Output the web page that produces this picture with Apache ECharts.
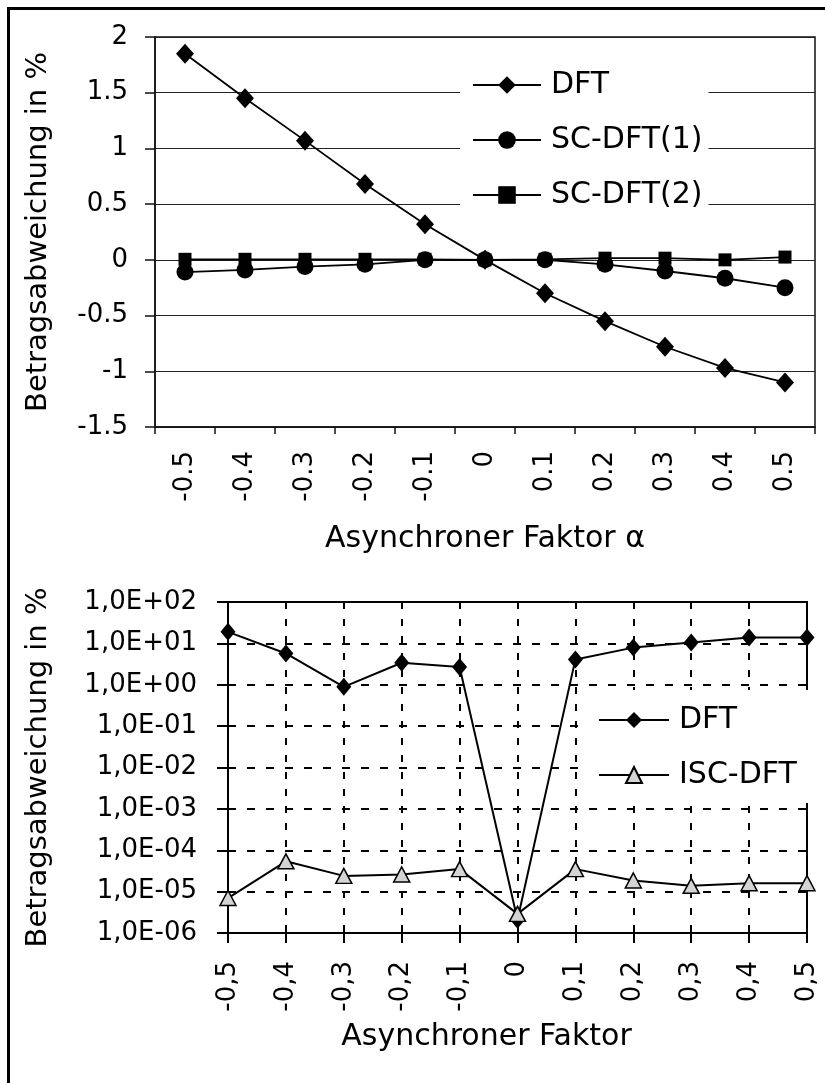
<!DOCTYPE html>
<html>
<head>
<meta charset="utf-8">
<script src="https://cdn.jsdelivr.net/npm/echarts@6/dist/echarts.min.js"></script>
<style>
html,body{margin:0;padding:0;background:#fff;}
#chart{width:825px;height:1083px;}
</style>
</head>
<body>
<div id="chart"></div>
<script>
// ---- data ----
const topCategories = ['-0.5','-0.4','-0.3','-0.2','-0.1','0','0.1','0.2','0.3','0.4','0.5'];
const topDFT  = [1.85, 1.45, 1.07, 0.68, 0.32, 0.00, -0.30, -0.55, -0.78, -0.97, -1.10];
const topSC1  = [-0.11, -0.09, -0.06, -0.04, 0.00, 0.00, 0.00, -0.04, -0.10, -0.165, -0.25];
const topSC2  = [0.005, 0.005, 0.005, 0.005, 0.005, 0.00, 0.005, 0.015, 0.015, 0.00, 0.025];
const topSeriesNames = ['DFT', 'SC-DFT(1)', 'SC-DFT(2)'];

const bottomCategories = ['-0,5','-0,4','-0,3','-0,2','-0,1','0','0,1','0,2','0,3','0,4','0,5'];
const bottomDFT = [19, 5.7, 0.89, 3.4, 2.7, 2.1e-6, 4.1, 7.9, 10.5, 13.8, 13.8];
const bottomISC = [7e-6, 5.4e-5, 2.4e-5, 2.6e-5, 3.5e-5, 2.9e-6, 3.5e-5, 1.86e-5, 1.38e-5, 1.6e-5, 1.6e-5];
const bottomSeriesNames = ['DFT', 'ISC-DFT'];
const logTickLabels = ['1,0E-06','1,0E-05','1,0E-04','1,0E-03','1,0E-02','1,0E-01','1,0E+00','1,0E+01','1,0E+02'];

const yTitle = 'Betragsabweichung in %';
const xTitleTop = 'Asynchroner Faktor \u03B1';
const xTitleBottom = 'Asynchroner Faktor';

// ---- chart ----
const FONT = 'DejaVu Sans';
const chart = echarts.init(document.getElementById('chart'), null, {renderer: 'canvas'});

const option = {
  backgroundColor: '#fff',
  animation: false,
  textStyle: {fontFamily: FONT, color: '#000'},
  graphic: [{
    type: 'polyline',
    shape: {points: [[8.5, 1083], [8.5, 8.5], [825, 8.5]]},
    style: {stroke: '#000', lineWidth: 3, fill: null},
    z: 100
  }],
  grid: [
    {left: 155, top: 37, right: 10, height: 390, show: true, borderColor: '#111', borderWidth: 1.5, backgroundColor: 'transparent'},
    {left: 228, top: 602, right: 18, height: 331, show: true, borderColor: '#000', borderWidth: 2, backgroundColor: 'transparent'}
  ],
  legend: [
    {
      data: topSeriesNames,
      orient: 'vertical',
      left: 460, top: 63,
      padding: [7, 6, 6, 12],
      backgroundColor: '#fff',
      itemWidth: 68, itemHeight: 22, itemGap: 25,
      textStyle: {fontFamily: FONT, fontSize: 30, lineHeight: 30, color: '#000', padding: [0, 0, 0, 5]},
      z: 10
    },
    {
      data: bottomSeriesNames,
      orient: 'vertical',
      left: 580, top: 690,
      padding: [15, 14, 13, 18],
      backgroundColor: '#fff',
      itemWidth: 70, itemHeight: 20, itemGap: 25,
      textStyle: {fontFamily: FONT, fontSize: 30, lineHeight: 30, color: '#000', padding: [0, 0, 0, 5]},
      z: 10
    }
  ],
  xAxis: [
    {
      gridIndex: 0, type: 'category', data: topCategories, boundaryGap: true,
      axisLine: {onZero: false, lineStyle: {color: '#111', width: 1.5}},
      axisTick: {show: true, length: 7, interval: 0, lineStyle: {color: '#111', width: 1.5}},
      axisLabel: {rotate: 90, margin: 24, interval: 0, fontFamily: FONT, fontSize: 26, color: '#000'},
      splitLine: {show: false},
      name: xTitleTop, nameLocation: 'middle', nameGap: 112,
      nameTextStyle: {fontFamily: FONT, fontSize: 30, color: '#000', verticalAlign: 'middle'}
    },
    {
      gridIndex: 1, type: 'category', data: bottomCategories, boundaryGap: false,
      axisLine: {onZero: false, lineStyle: {color: '#000', width: 2}},
      axisTick: {show: true, length: 10, interval: 0, lineStyle: {color: '#000', width: 2}},
      axisLabel: {rotate: 90, margin: 28, interval: 0, fontFamily: FONT, fontSize: 26, color: '#000'},
      splitLine: {show: true, interval: 0, lineStyle: {color: '#000', width: 2, type: [7, 10]}},
      name: xTitleBottom, nameLocation: 'middle', nameGap: 104,
      nameTextStyle: {fontFamily: FONT, fontSize: 30, color: '#000', verticalAlign: 'middle', padding: [0, 62, 0, 0]}
    }
  ],
  yAxis: [
    {
      gridIndex: 0, type: 'value', min: -1.5, max: 2, interval: 0.5,
      axisLine: {show: true, lineStyle: {color: '#111', width: 1.5}},
      axisTick: {show: true, length: 10, lineStyle: {color: '#111', width: 1.5}},
      axisLabel: {margin: 27, fontFamily: FONT, fontSize: 26, color: '#000'},
      splitLine: {show: true, lineStyle: {color: '#222', width: 1.2}},
      name: yTitle, nameLocation: 'middle', nameGap: 117, nameRotate: 90,
      nameTextStyle: {fontFamily: FONT, fontSize: 29, color: '#000', verticalAlign: 'middle'}
    },
    {
      gridIndex: 1, type: 'log', logBase: 10, min: 1e-6, max: 100, interval: 1, splitNumber: 8,
      axisLine: {show: true, lineStyle: {color: '#000', width: 2}},
      axisTick: {show: true, length: 11, lineStyle: {color: '#000', width: 2}},
      axisLabel: {
        margin: 31, fontFamily: FONT, fontSize: 26, color: '#000',
        formatter: v => logTickLabels[Math.round(Math.log10(v)) + 6]
      },
      splitLine: {show: true, lineStyle: {color: '#000', width: 2, type: [8, 11]}},
      name: yTitle, nameLocation: 'middle', nameGap: 190, nameRotate: 90,
      nameTextStyle: {fontFamily: FONT, fontSize: 29, color: '#000', verticalAlign: 'middle'}
    }
  ],
  series: [
    {
      name: topSeriesNames[0], type: 'line', xAxisIndex: 0, yAxisIndex: 0, data: topDFT,
      symbol: 'diamond', symbolSize: [18, 20], showAllSymbol: true,
      lineStyle: {color: '#000', width: 1.8}, itemStyle: {color: '#000'}, z: 5
    },
    {
      name: topSeriesNames[1], type: 'line', xAxisIndex: 0, yAxisIndex: 0, data: topSC1,
      symbol: 'circle', symbolSize: 17, showAllSymbol: true,
      lineStyle: {color: '#000', width: 1.8}, itemStyle: {color: '#000'}, z: 4
    },
    {
      name: topSeriesNames[2], type: 'line', xAxisIndex: 0, yAxisIndex: 0, data: topSC2,
      symbol: 'rect', symbolSize: 13, showAllSymbol: true,
      lineStyle: {color: '#000', width: 1.8}, itemStyle: {color: '#000'}, z: 3
    },
    {
      name: bottomSeriesNames[0], type: 'line', xAxisIndex: 1, yAxisIndex: 1, data: bottomDFT,
      symbol: 'diamond', symbolSize: [15, 18], showAllSymbol: true,
      lineStyle: {color: '#000', width: 2}, itemStyle: {color: '#000'}, z: 4
    },
    {
      name: bottomSeriesNames[1], type: 'line', xAxisIndex: 1, yAxisIndex: 1, data: bottomISC,
      symbol: 'triangle', symbolSize: [16, 15], showAllSymbol: true,
      lineStyle: {color: '#000', width: 2},
      itemStyle: {color: '#d4d4d4', borderColor: '#000', borderWidth: 1.5}, z: 5
    }
  ]
};
chart.setOption(option);
</script>
</body>
</html>
